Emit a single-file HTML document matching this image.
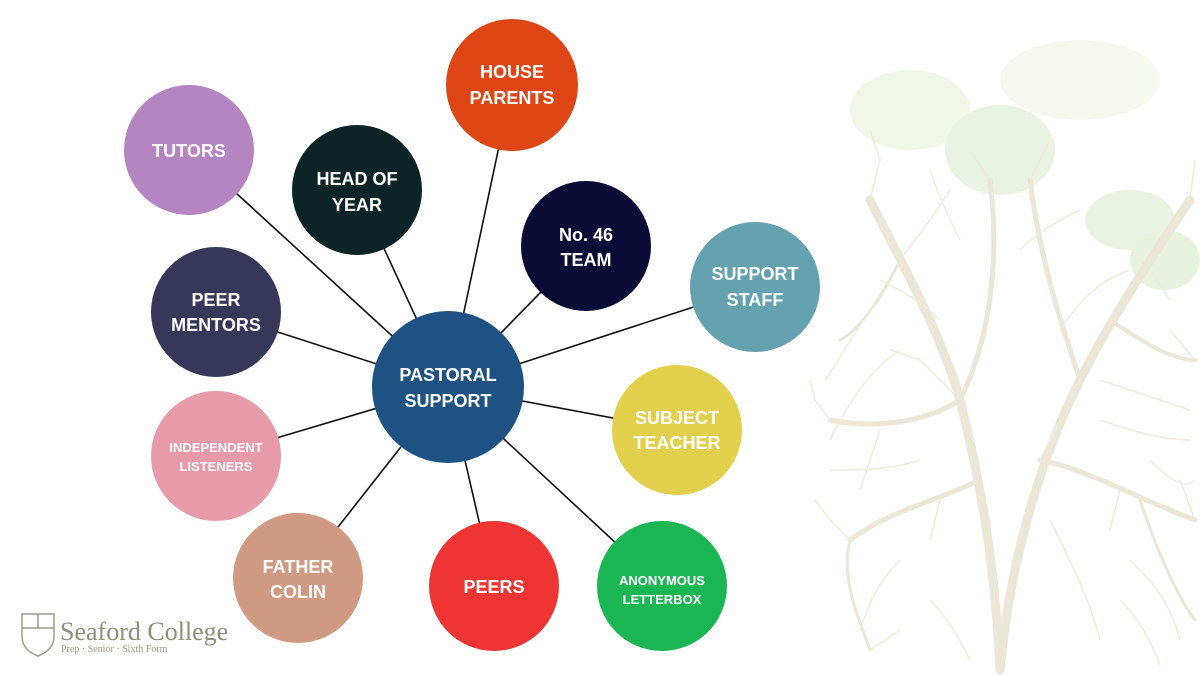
<!DOCTYPE html>
<html><head><meta charset="utf-8"><style>
html,body{margin:0;padding:0;background:#fff;}
svg{display:block}
text{font-family:"Liberation Sans",sans-serif;font-weight:bold;fill:#fff;text-anchor:middle}
</style></head><body>
<svg width="1200" height="675" viewBox="0 0 1200 675">
<!-- tree background -->
<g opacity="0.5">
<ellipse cx="910" cy="110" rx="60" ry="40" fill="#e2efd2"/>
<ellipse cx="1000" cy="150" rx="55" ry="45" fill="#d6e9c8"/>
<ellipse cx="1080" cy="80" rx="80" ry="40" fill="#eef3e2"/>
<ellipse cx="1130" cy="220" rx="45" ry="30" fill="#d6e9c8"/>
<ellipse cx="1165" cy="260" rx="35" ry="30" fill="#d0e6c0"/>
</g>
<g stroke="#ebe6d5" fill="none" stroke-linecap="round">
<path d="M1000 670 C995 560 980 480 960 400 C940 330 900 260 870 200" stroke-width="9"/>
<path d="M1000 670 C1010 560 1040 460 1080 380 C1110 320 1150 260 1190 200" stroke-width="9"/>
<path d="M960 400 C930 420 880 430 830 420" stroke-width="5"/>
<path d="M1040 460 C1090 470 1140 500 1195 520" stroke-width="5"/>
<path d="M980 480 C940 500 890 510 850 540" stroke-width="5"/>
<path d="M1080 380 C1060 320 1040 260 1030 180" stroke-width="5"/>
<path d="M960 400 C990 340 1000 260 990 180" stroke-width="5"/>
<path d="M1110 320 C1140 340 1170 360 1195 360" stroke-width="4"/>
<path d="M900 260 C880 300 860 330 840 340" stroke-width="3"/>
<path d="M1140 500 C1160 560 1180 600 1195 620" stroke-width="3"/>
<path d="M850 540 C840 580 860 620 870 650" stroke-width="3"/>
</g>
<g stroke="#efebdf" fill="none" stroke-width="1.5">
<path d="M870 200 L880 160 L870 130 M900 260 L930 220 L950 190 M830 420 L815 400 L810 380 M850 540 L830 520 L815 500 M1190 200 L1195 160 M1030 180 L1050 140 M990 180 L970 150 M1195 360 L1170 330 M1195 520 L1180 480 M870 650 L900 630 M960 400 L920 360 L890 350 M1040 460 L1060 420 M880 430 L870 460 L860 490 M1120 490 L1110 530 M940 500 L930 540 M1150 270 L1170 300"/>
<path d="M880 300 C860 320 840 360 825 380 M900 350 C870 370 850 400 830 440 M920 460 C890 470 860 470 830 470 M900 560 C880 580 870 600 860 630 M930 600 C950 620 960 640 970 660 M1050 520 C1070 560 1090 600 1100 640 M1100 420 C1130 430 1160 440 1190 440 M1130 560 C1150 580 1170 600 1180 640 M1060 330 C1080 300 1100 280 1130 270 M1100 380 C1130 390 1160 400 1190 410 M1020 250 C1040 230 1060 220 1080 210 M940 320 C920 300 900 290 880 280 M960 240 C950 220 940 200 930 170 M1150 460 C1170 480 1185 490 1195 480 M1120 600 C1140 620 1150 640 1160 665"/>
</g>
<!-- connectors -->
<g stroke="#111" stroke-width="1.6">
<line x1="448" y1="387" x2="512" y2="85"/>
<line x1="448" y1="387" x2="189" y2="150"/>
<line x1="448" y1="387" x2="357" y2="190"/>
<line x1="448" y1="387" x2="586" y2="246"/>
<line x1="448" y1="387" x2="755" y2="287"/>
<line x1="448" y1="387" x2="216" y2="312"/>
<line x1="448" y1="387" x2="677" y2="430"/>
<line x1="448" y1="387" x2="216" y2="456"/>
<line x1="448" y1="387" x2="298" y2="578"/>
<line x1="448" y1="387" x2="494" y2="586"/>
<line x1="448" y1="387" x2="662" y2="586"/>
</g>
<!-- circles -->
<circle cx="512" cy="85" r="66" fill="#df4616"/>
<circle cx="189" cy="150" r="65" fill="#b585c1"/>
<circle cx="357" cy="190" r="65" fill="#0d2426"/>
<circle cx="586" cy="246" r="65" fill="#0b0c36"/>
<circle cx="755" cy="287" r="65" fill="#64a2b0"/>
<circle cx="216" cy="312" r="65" fill="#363759"/>
<circle cx="448" cy="387" r="76" fill="#1e5283"/>
<circle cx="677" cy="430" r="65" fill="#e2cf4c"/>
<circle cx="216" cy="456" r="65" fill="#e79aaa"/>
<circle cx="298" cy="578" r="65" fill="#d09a82"/>
<circle cx="494" cy="586" r="65" fill="#ef3434"/>
<circle cx="662" cy="586" r="65" fill="#1ab654"/>
<!-- labels -->
<g font-size="18">
<text x="512" y="78">HOUSE</text><text x="512" y="104">PARENTS</text>
<text x="189" y="157">TUTORS</text>
<text x="357" y="185">HEAD OF</text><text x="357" y="211">YEAR</text>
<text x="586" y="241">No. 46</text><text x="586" y="266">TEAM</text>
<text x="755" y="280">SUPPORT</text><text x="755" y="306">STAFF</text>
<text x="216" y="306">PEER</text><text x="216" y="331">MENTORS</text>
<text x="448" y="381">PASTORAL</text><text x="448" y="407">SUPPORT</text>
<text x="677" y="424">SUBJECT</text><text x="677" y="449">TEACHER</text>
<text x="298" y="573">FATHER</text><text x="298" y="598">COLIN</text>
<text x="494" y="593">PEERS</text>
</g>
<g font-size="13">
<text x="216" y="452">INDEPENDENT</text><text x="216" y="471">LISTENERS</text>
<text x="662" y="585">ANONYMOUS</text><text x="662" y="604">LETTERBOX</text>
</g>
<!-- logo -->
<g stroke="#9c9c90" fill="none" stroke-width="1.5">
<path d="M22 614 L54 614 L54 636 Q54 650 38 656 Q22 650 22 636 Z"/>
<line x1="22" y1="628" x2="54" y2="628"/><line x1="38" y1="614" x2="38" y2="628"/>
</g>
<text x="60" y="640" style="font-family:'Liberation Serif',serif;font-weight:normal;fill:#8f8e7c;text-anchor:start" font-size="26">Seaford College</text>
<text x="61" y="652" style="font-family:'Liberation Serif',serif;font-weight:normal;fill:#9a9988;text-anchor:start" font-size="10">Prep · Senior · Sixth Form</text>
</svg>
</body></html>
